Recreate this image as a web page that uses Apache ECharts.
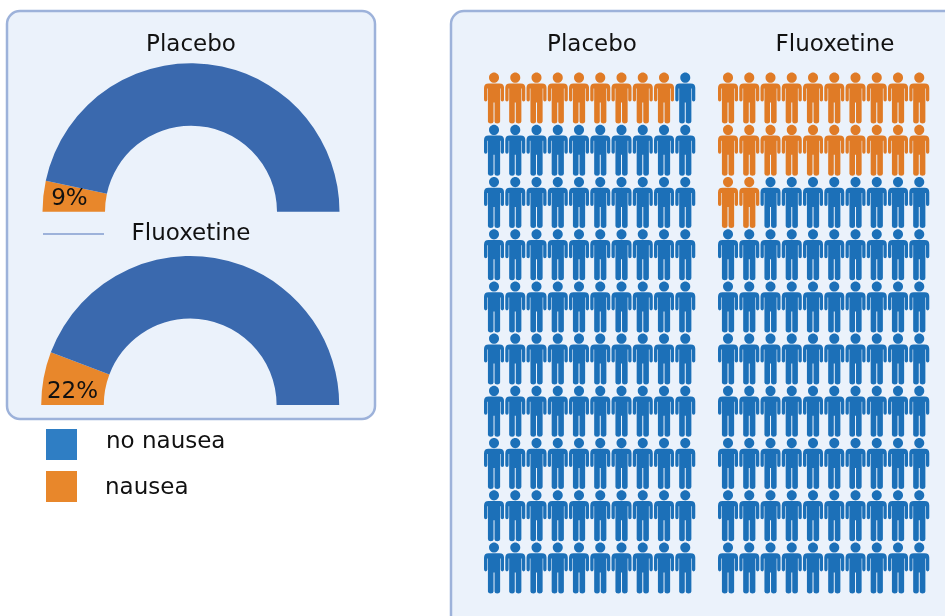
<!DOCTYPE html>
<html>
<head>
<meta charset="utf-8">
<style>html,body{margin:0;padding:0;background:#fff}#c{width:945px;height:616px}</style>
<script src="https://cdn.jsdelivr.net/npm/echarts@6/dist/echarts.min.js"></script>
</head>
<body>
<div id="c"></div>
<script>
const groups = ['Placebo', 'Fluoxetine'];
const legendNames = ['no nausea', 'nausea'];
const percentLabels = ['9%', '22%'];
const gaugeNausea = [6.7, 11.5];
const gaugeNoNausea = [93.3, 88.5];
const peopleNausea = [9, 22];
const peopleTotal = 100;
const perRow = 10;

const PIE_BLUE = '#3a69ae', PIE_ORANGE = '#e8872b';
const P_BLUE = '#1c70b8', P_ORANGE = '#e07b26';
const PERSON = 'path://M10 0C12.8 0 15 2.3 15 5.1C15 7.9 12.8 10.2 10 10.2C7.2 10.2 5 7.9 5 5.1C5 2.3 7.2 0 10 0Z' +
  'M4.5 10.8H15.5Q20 10.8 20 15.2V27.2Q20 29 18.3 29Q16.7 29 16.7 27.2V16H16.1V49Q16 51 13.2 51Q10.5 51 10.5 49V30H9.5V49Q9.5 51 6.8 51Q4 51 3.9 49V16H3.3V27.2Q3.3 29 1.7 29Q0 29 0 27.2V15.2Q0 10.8 4.5 10.8Z';

function people(nausea) {
  const a = [], b = [];
  for (let i = 0; i < peopleTotal; i++) {
    const p = [i % perRow, Math.floor(i / perRow)];
    (i < nausea ? a : b).push(p);
  }
  return [a, b];
}

const pieLayouts = [
  { center: [191, 211.7], radius: [86, 148.5], dx: -2, dy: 0 },
  { center: [190.2, 405], radius: [86.4, 149], dx: 1, dy: 9 }
];
const pieSeries = groups.map((g, i) => ({
  type: 'pie', name: g, silent: true, animation: false,
  center: pieLayouts[i].center, radius: pieLayouts[i].radius,
  startAngle: 180, endAngle: 0, clockwise: true,
  itemStyle: { borderWidth: 0 },
  labelLine: { show: false },
  labelLayout: { dx: pieLayouts[i].dx, dy: pieLayouts[i].dy, hideOverlap: false },
  data: [
    { name: legendNames[1], value: gaugeNausea[i], itemStyle: { color: PIE_ORANGE },
      label: { show: true, position: 'inside', formatter: percentLabels[i],
        fontFamily: 'DejaVu Sans', fontSize: 23, color: '#111' } },
    { name: legendNames[0], value: gaugeNoNausea[i], itemStyle: { color: PIE_BLUE }, label: { show: false } }
  ]
}));

const gridLefts = [483.4, 717.4];
const grids = gridLefts.map(l => ({ left: l, top: 72, width: 212.5, height: 522 }));
const xAxes = groups.map((g, i) => ({ type: 'value', gridIndex: i, min: -0.5, max: 9.5, show: false }));
const yAxes = groups.map((g, i) => ({ type: 'value', gridIndex: i, min: -0.5, max: 9.5, inverse: true, show: false }));
const peopleSeries = [];
groups.forEach((g, i) => {
  const [a, b] = people(peopleNausea[i]);
  [[a, P_ORANGE], [b, P_BLUE]].forEach(([d, col]) => peopleSeries.push({
    type: 'scatter', xAxisIndex: i, yAxisIndex: i, silent: true, animation: false,
    symbol: PERSON, symbolSize: [20, 51], itemStyle: { color: col, opacity: 1 }, data: d
  }));
});

const titleStyle = { fontFamily: 'DejaVu Sans', fontSize: 23, fontWeight: 'normal', color: '#111' };
const titleAt = (text, x, y) => ({ text, left: x, top: y, textAlign: 'center', textVerticalAlign: 'middle', padding: 0, textStyle: titleStyle });
const legendToken = { fontFamily: 'DejaVu Sans', fontSize: 23, color: '#111' };

const chart = echarts.init(document.getElementById('c'), null, { renderer: 'canvas' });
chart.setOption({
  backgroundColor: '#ffffff',
  animation: false,
  title: [
    titleAt(groups[0], 191, 45.5), titleAt(groups[1], 191, 234.5),
    titleAt(groups[0], 592, 45.5), titleAt(groups[1], 835, 45.5)
  ],
  legend: {
    orient: 'vertical', left: 46, top: 429, itemWidth: 31, itemHeight: 31, itemGap: 11, padding: 0,
    selectedMode: false,
    formatter: name => (name === legendNames[0] ? '{a|' : '{b|') + name + '}',
    textStyle: {
      fontFamily: 'DejaVu Sans', fontSize: 23, color: '#111', padding: [0, 0, 0, 24],
      rich: {
        a: Object.assign({ padding: [0, 0, 4, 0] }, legendToken),
        b: Object.assign({ padding: [3, 0, 0, -1] }, legendToken)
      }
    },
    data: [
      { name: legendNames[0], icon: 'rect', itemStyle: { color: '#2f7ec4' } },
      { name: legendNames[1], icon: 'rect', itemStyle: { color: '#e8872b' } }
    ]
  },
  grid: grids, xAxis: xAxes, yAxis: yAxes,
  graphic: [
    { type: 'rect', z: -10, silent: true, shape: { x: 7, y: 11, width: 368, height: 408, r: 13 },
      style: { fill: '#ebf2fb', stroke: '#9db2da', lineWidth: 2.5 } },
    { type: 'rect', z: -10, silent: true, shape: { x: 451, y: 11, width: 620, height: 720, r: 13 },
      style: { fill: '#ebf2fb', stroke: '#9db2da', lineWidth: 2.5 } },
    { type: 'line', z: -5, silent: true, shape: { x1: 43, y1: 234, x2: 104, y2: 234 },
      style: { stroke: '#9db2da', lineWidth: 2 } }
  ],
  series: pieSeries.concat(peopleSeries)
});
</script>
</body>
</html>
